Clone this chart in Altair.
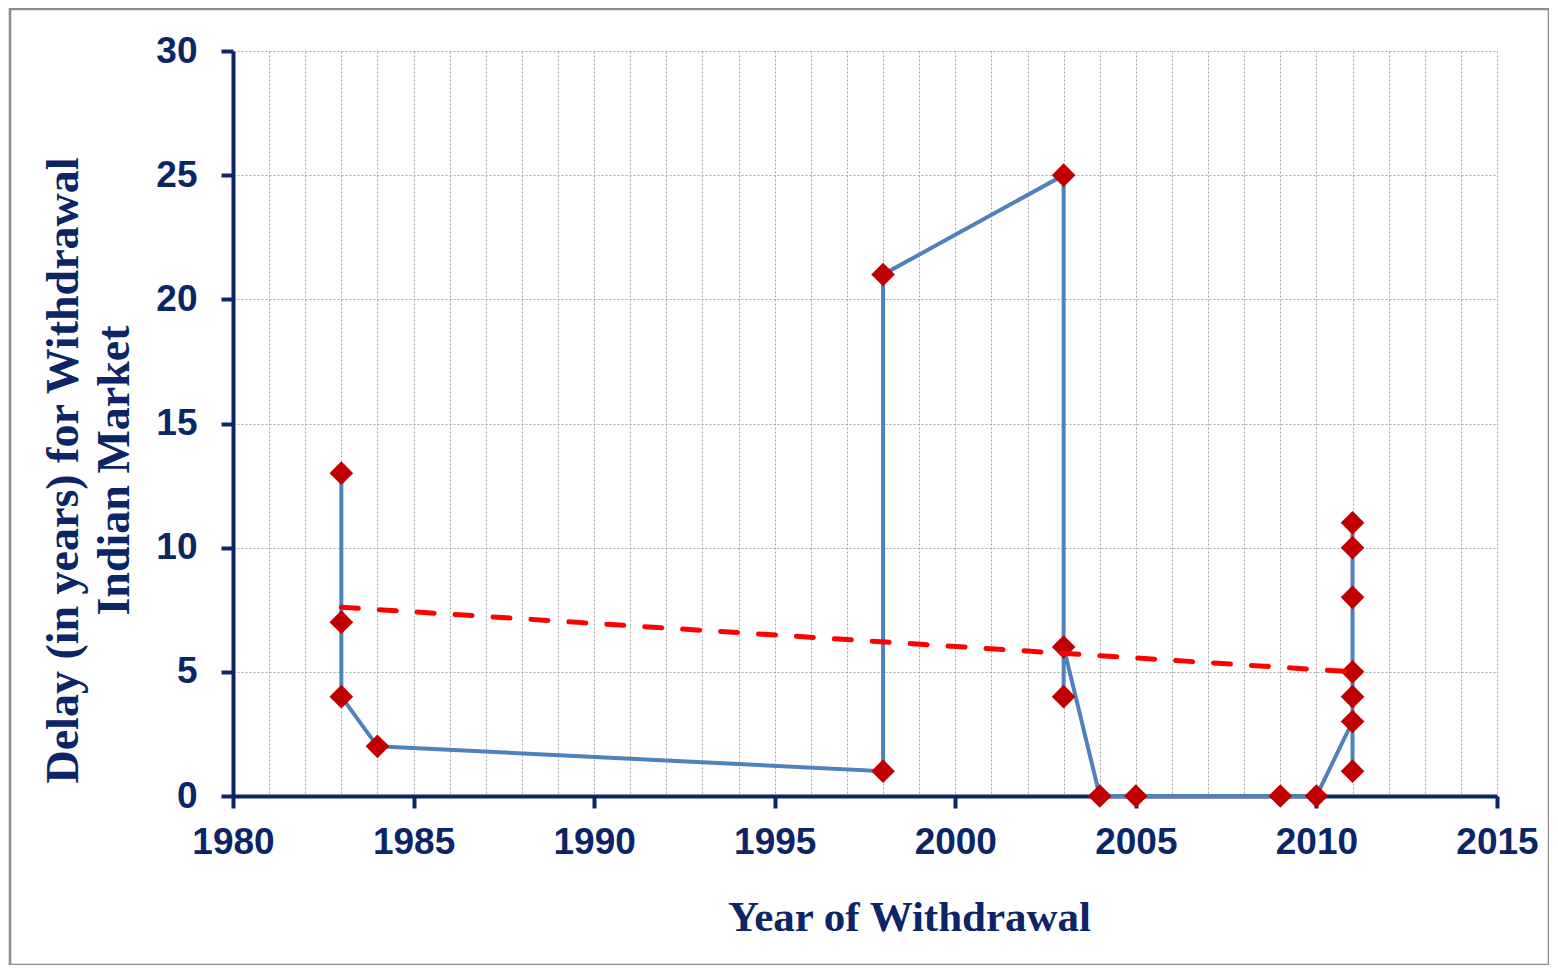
import altair as alt
import pandas as pd

# Data (in the order the line connects them)
years = [1983, 1983, 1983, 1984, 1998, 1998, 2003, 2003, 2003, 2004,
         2005, 2009, 2010, 2011, 2011, 2011, 2011, 2011, 2011, 2011]
delays = [13, 7, 4, 2, 1, 21, 25, 4, 6, 0,
          0, 0, 0, 3, 1, 4, 5, 8, 10, 11]

trend_years = [1983, 2011]
trend_values = [7.6, 5.0]

x_ticks = list(range(1980, 2016))
y_ticks = [0, 5, 10, 15, 20, 25, 30]

navy = "#0B2566"

df = pd.DataFrame({"year": years, "delay": delays, "order": list(range(len(years)))})
trend = pd.DataFrame({"year": trend_years, "delay": trend_values})

x_scale = alt.Scale(domain=[1980, 2015], nice=False, zero=False)
y_scale = alt.Scale(domain=[0, 30], nice=False)

x_axis = alt.Axis(
    title="Year of Withdrawal",
    values=x_ticks,
    tickCount=60,
    format="d",
    labelExpr="datum.value % 5 === 0 ? datum.label : ''",
    labelOverlap=False,
    labelFlush=False,
    tickOpacity={"condition": {"test": "datum.value % 5 === 0", "value": 1}, "value": 0},
    labelPadding=16,
    titleX=676,
    titleY=134,
    titleAlign="center",
    titleBaseline="alphabetic",
    titleFontSize=43,
)

y_axis = alt.Axis(
    title=["Delay (in years) for Withdrawal", "Indian Market"],
    values=y_ticks,
    tickCount=20,
    labelFlush=False,
    labelPadding=24,
    titleAngle=270,
    titleX=-192,
    titleY=419,
    titleAlign="center",
    titleBaseline="top",
    titleFontSize=46,
    titleLineHeight=51,
)

x_enc = alt.X("year:Q", scale=x_scale, axis=x_axis)
y_enc = alt.Y("delay:Q", scale=y_scale, axis=y_axis)

frame = alt.Chart(pd.DataFrame({"a": [0]})).mark_rect(
    fill=None, stroke="#8c8c8c", strokeWidth=2.5
).encode(
    x=alt.value(-223), x2=alt.value(1316), y=alt.value(-42), y2=alt.value(914)
)

line = alt.Chart(df).mark_line(color="#4F81BD", strokeWidth=4).encode(
    x=x_enc, y=y_enc, order="order:Q"
)

points = alt.Chart(df).mark_point(
    shape="diamond", filled=True, color="#C00000", size=560, opacity=1
).encode(x="year:Q", y="delay:Q")

trend_line = alt.Chart(trend).mark_line(
    color="#FF0000", strokeWidth=5, strokeDash=[17, 21], strokeCap="round"
).encode(x="year:Q", y="delay:Q")

chart = alt.layer(frame, line, points, trend_line).properties(
    width=1264,
    height=745,
    autosize=alt.AutoSizeParams(type="none"),
    padding={"left": 225, "top": 43, "right": 52, "bottom": 169},
    background="white",
).configure_view(
    stroke=None
).configure_axis(
    domainColor=navy,
    domainWidth=4,
    tickColor=navy,
    tickWidth=4,
    tickSize=12,
    labelFont="Liberation Sans",
    labelFontSize=37,
    labelFontWeight="bold",
    labelColor=navy,
    titleFont="Liberation Serif",
    titleFontWeight="bold",
    titleColor=navy,
    gridColor="#a6a6a6",
    gridDash=[2, 2],
    gridWidth=1,
)

chart.save("out.html", embed_options={"renderer": "svg", "actions": False})
